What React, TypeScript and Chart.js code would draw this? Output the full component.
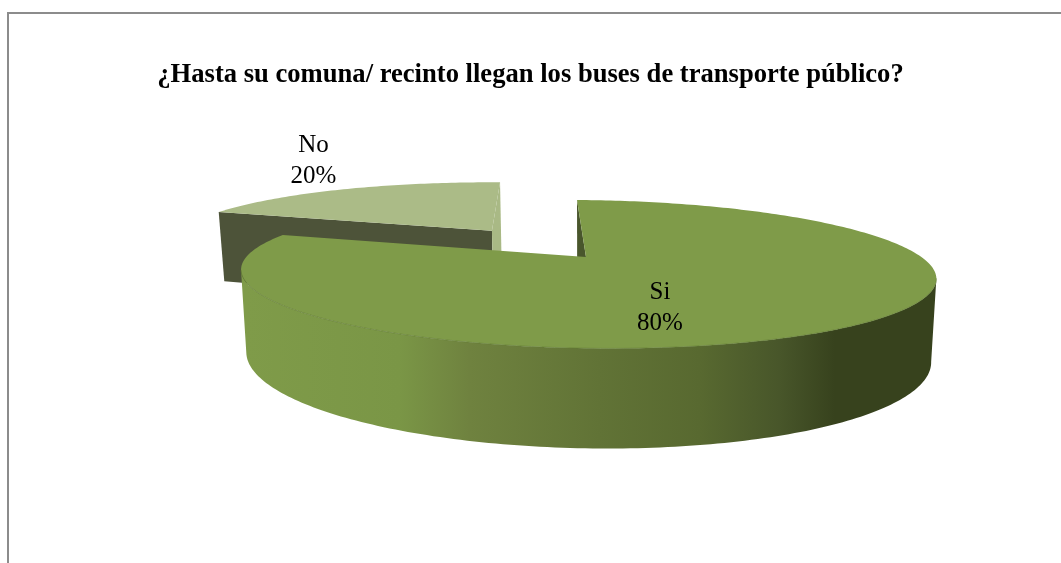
import React, { useEffect, useRef } from "react";
import { Chart, registerables } from "chart.js";

Chart.register(...registerables);

const titleText = "¿Hasta su comuna/ recinto llegan los buses de transporte público?";
const categories = ["Si", "No"];
const values = [80, 20];
const percentLabels = ["80%", "20%"];
const explode = [0, 0.495];
const topColors = ["#7F9B49", "#ABBB87"];
const startFaceColors = ["#49562C", "#4D5339"];
const endFaceColors = ["#49562C", "#A9B985"];
const labelBaselines = [
  { x: 660, y: 299 },
  { x: 313.5, y: 152 },
];
const wallStops: [number, string][] = [
  [0, "#7F9B49"],
  [0.226, "#7A9646"],
  [0.328, "#6F823F"],
  [0.518, "#617336"],
  [0.664, "#586930"],
  [0.78, "#48562A"],
  [0.861, "#37421D"],
  [1, "#37421D"],
];

type P = { x: number; y: number; w: number };

// Perspective of the pie's plane (u to the right, t to the back, radius 1)
const project = (u: number, t: number): P => {
  const w = 1 + 0.2317 * t;
  return { x: (586 + 338 * u + 124.7 * t) / w, y: (257 + 2 * u - 10.66 * t) / w, w };
};
const lower = (p: P): P => ({
  x: p.x - (p.x - 590) * 0.015,
  y: p.y + Math.max(69, 9 + 70 / p.w),
  w: p.w,
});

const poly = (ctx: CanvasRenderingContext2D, pts: { x: number; y: number }[]) => {
  ctx.beginPath();
  pts.forEach((p, i) => (i ? ctx.lineTo(p.x, p.y) : ctx.moveTo(p.x, p.y)));
  ctx.closePath();
};

const pie3d = {
  id: "pie3d",
  beforeDraw(chart: any) {
    const { ctx } = chart;
    ctx.save();
    ctx.fillStyle = "#ffffff";
    ctx.fillRect(0, 0, chart.width, chart.height);
    ctx.fillStyle = "#8C8C8C";
    ctx.fillRect(7, 12, chart.width - 7, 2);
    ctx.fillRect(7, 12, 2, chart.height - 12);
    ctx.restore();
  },
  beforeDatasetsDraw(chart: any) {
    const { ctx } = chart;
    const arcs = chart.getDatasetMeta(0).data;
    ctx.save();
    const order = arcs.map((_: any, i: number) => i).sort((a: number, b: number) => explode[b] - explode[a]);
    for (const i of order) {
      const arc = arcs[i];
      const a0 = arc.startAngle + Math.PI / 2;
      const a1 = arc.endAngle + Math.PI / 2;
      const mid = (a0 + a1) / 2;
      const ou = explode[i] * Math.sin(mid);
      const ot = explode[i] * Math.cos(mid);
      const n = Math.max(2, Math.round(((a1 - a0) * 180) / Math.PI));
      const rim: P[] = [];
      for (let k = 0; k <= n; k++) {
        const a = a0 + ((a1 - a0) * k) / n;
        rim.push(project(ou + Math.sin(a), ot + Math.cos(a)));
      }
      const apex = project(ou, ot);
      const inner = project(ou + 0.4 * Math.sin(mid), ot + 0.4 * Math.cos(mid));

      // radial cut faces
      const face = (edge: P, color: string) => {
        const ex = edge.x - apex.x;
        const ey = edge.y - apex.y;
        const sideDown = ex;
        const sideIn = ex * (inner.y - apex.y) - ey * (inner.x - apex.x);
        if (sideDown * sideIn < 0) {
          poly(ctx, [apex, edge, lower(edge), lower(apex)]);
          ctx.fillStyle = color;
          ctx.fill();
        }
      };
      face(rim[0], startFaceColors[i]);
      face(rim[n], endFaceColors[i]);

      // curved outer wall: only the run of the rim that faces the viewer
      const run: P[] = [];
      for (let k = 0; k < n; k++) {
        if (rim[k + 1].x < rim[k].x) {
          if (!run.length) run.push(rim[k]);
          run.push(rim[k + 1]);
        }
      }
      if (run.length) {
        const g = ctx.createLinearGradient(245, 0, 930, 0);
        wallStops.forEach(([s, c]) => g.addColorStop(s, c));
        poly(ctx, [...run, ...run.slice().reverse().map(lower)]);
        ctx.fillStyle = g;
        ctx.fill();
      }

      // top face
      poly(ctx, [apex, ...rim]);
      ctx.fillStyle = arc.options.backgroundColor;
      ctx.fill();
      if (run.length) {
        ctx.beginPath();
        run.forEach((p, k) => (k ? ctx.lineTo(p.x, p.y) : ctx.moveTo(p.x, p.y)));
        ctx.strokeStyle = "rgba(95,120,50,0.75)";
        ctx.lineWidth = 0.8;
        ctx.stroke();
      }
    }

    ctx.fillStyle = "#000000";
    ctx.font = '25px "Liberation Serif"';
    ctx.textAlign = "center";
    ctx.textBaseline = "alphabetic";
    categories.forEach((c, i) => {
      const { x, y } = labelBaselines[i];
      ctx.fillText(c, x, y);
      ctx.fillText(percentLabels[i], x, y + 30.5);
    });
    ctx.restore();
    return false;
  },
};

export default function App() {
  const ref = useRef<HTMLCanvasElement | null>(null);
  useEffect(() => {
    const chart = new Chart(ref.current as HTMLCanvasElement, {
      type: "pie",
      data: {
        labels: categories,
        datasets: [{ data: values, backgroundColor: topColors, borderWidth: 0 }],
      },
      options: {
        responsive: false,
        animation: false,
        rotation: 0,
        plugins: {
          legend: { display: false },
          tooltip: { enabled: false },
          title: {
            display: true,
            text: titleText,
            color: "#000000",
            font: { family: '"Liberation Serif"', size: 26.6, weight: "bold" },
            padding: { top: 59, bottom: 10 },
          },
        },
      },
      plugins: [pie3d],
    } as any);
    return () => chart.destroy();
  }, []);
  return (
    <div style={{ position: "absolute", left: 0, top: 0, width: 1061, height: 563, overflow: "hidden" }}>
      <canvas ref={ref} width={1061} height={563} style={{ display: "block" }} />
    </div>
  );
}
